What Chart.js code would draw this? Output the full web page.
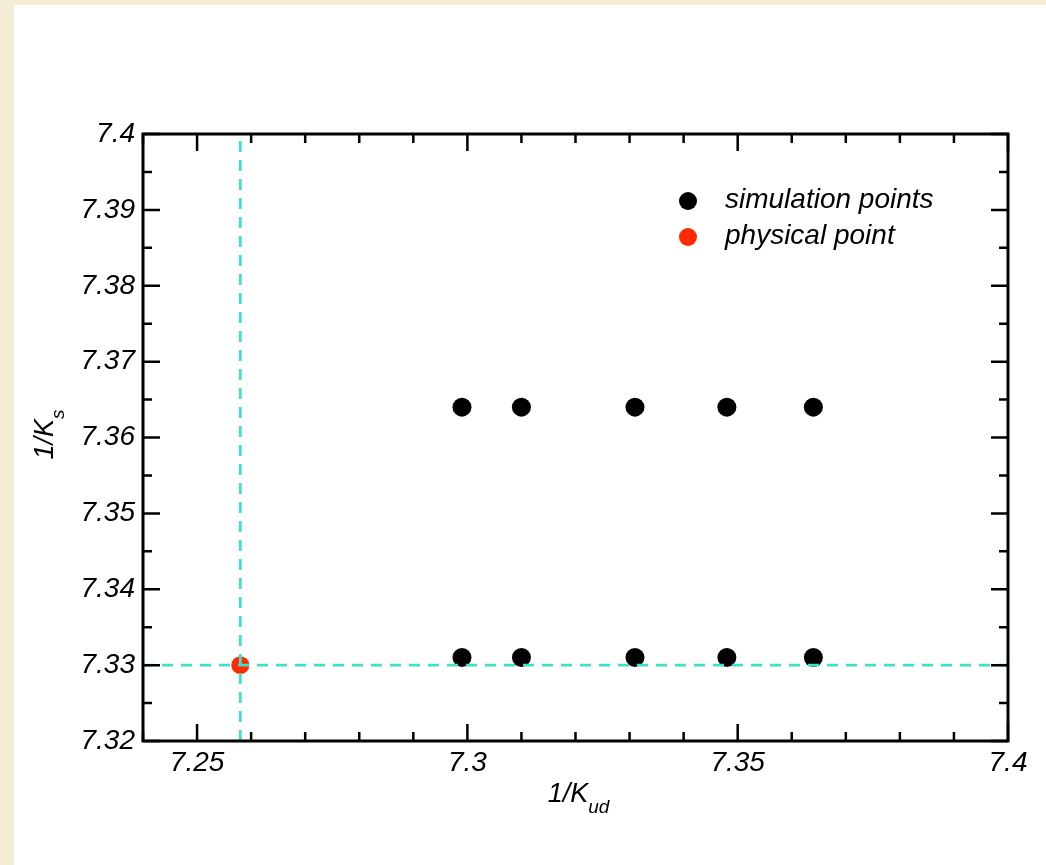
<!DOCTYPE html>
<html>
<head>
<meta charset="utf-8">
<script src="https://cdn.jsdelivr.net/npm/chart.js@4"></script>
<style>
  html, body { margin: 0; padding: 0; }
  body { background: #f4edd6; width: 1046px; height: 865px; overflow: hidden; position: relative; }
  #box { position: absolute; left: 14px; top: 5px; width: 1032px; height: 860px; background: #fff; }
</style>
</head>
<body>
<div id="box"><canvas id="plot" width="1032" height="860"></canvas></div>
<script>
// simulation points (1/K_ud, 1/K_s)
var simX = [7.299, 7.310, 7.331, 7.348, 7.364, 7.299, 7.310, 7.331, 7.348, 7.364];
var simY = [7.364, 7.364, 7.364, 7.364, 7.364, 7.331, 7.331, 7.331, 7.331, 7.331];
// physical point
var physX = [7.258];
var physY = [7.330];

var xRange = [7.24, 7.4];
var yRange = [7.32, 7.4];
var xLabelTicks = [7.25, 7.3, 7.35, 7.4];
var yLabelTicks = [7.32, 7.33, 7.34, 7.35, 7.36, 7.37, 7.38, 7.39, 7.4];

var tickFont = { family: "'Liberation Sans', Arial, sans-serif", size: 28, style: 'italic' };

function pts(xs, ys) {
  return xs.map(function(x, i) { return { x: x, y: ys[i] }; });
}

function sameVal(a, b) { return Math.abs(a - b) < 1e-6; }

// frame, inward ticks, legend, axis titles
var decorations = {
  id: 'decorations',
  afterDraw: function(chart) {
    var ctx = chart.ctx, a = chart.chartArea;
    var xs = chart.scales.x, ys = chart.scales.y;
    ctx.save();
    ctx.strokeStyle = '#000';
    ctx.lineWidth = 3;
    ctx.lineCap = 'butt';
    ctx.strokeRect(a.left, a.top, a.right - a.left, a.bottom - a.top);

    ctx.lineWidth = 2.5;
    ctx.beginPath();
    for (var i = 0; i <= 16; i++) {
      var v = xRange[0] + i * 0.01;
      var px = xs.getPixelForValue(v);
      var len = xLabelTicks.some(function(t) { return sameVal(t, v); }) ? 17 : 9;
      ctx.moveTo(px, a.bottom); ctx.lineTo(px, a.bottom - len);
      ctx.moveTo(px, a.top); ctx.lineTo(px, a.top + len);
    }
    for (var j = 0; j <= 16; j++) {
      var w = yRange[0] + j * 0.005;
      var py = ys.getPixelForValue(w);
      var l2 = yLabelTicks.some(function(t) { return sameVal(t, w); }) ? 17 : 9;
      ctx.moveTo(a.left, py); ctx.lineTo(a.left + l2, py);
      ctx.moveTo(a.right, py); ctx.lineTo(a.right - l2, py);
    }
    ctx.stroke();

    // legend
    var lx = a.right - 320;
    var rows = [
      { label: chart.data.datasets[0].label, color: chart.data.datasets[0].backgroundColor, y: a.top + 67 },
      { label: chart.data.datasets[1].label, color: chart.data.datasets[1].backgroundColor, y: a.top + 103 }
    ];
    ctx.font = "italic 28px 'Liberation Sans', Arial, sans-serif";
    ctx.textBaseline = 'alphabetic';
    ctx.textAlign = 'left';
    rows.forEach(function(r) {
      ctx.fillStyle = r.color;
      ctx.beginPath();
      ctx.arc(lx, r.y, 9, 0, Math.PI * 2);
      ctx.fill();
      ctx.fillStyle = '#000';
      ctx.fillText(r.label, lx + 37, r.y + 7);
    });

    // x title 1/K_ud
    var mainF = "italic 27px 'Liberation Sans', Arial, sans-serif";
    var subF = "italic 19px 'Liberation Sans', Arial, sans-serif";
    ctx.font = mainF;
    var w1 = ctx.measureText('1/K').width;
    ctx.font = subF;
    var w2 = ctx.measureText('ud').width;
    var cx = (a.left + a.right) / 2 + 3;
    var x0 = cx - (w1 + w2) / 2;
    ctx.font = mainF;
    ctx.fillText('1/K', x0, a.bottom + 61);
    ctx.font = subF;
    ctx.fillText('ud', x0 + w1, a.bottom + 72);

    // y title 1/K_s
    ctx.font = mainF;
    var w3 = ctx.measureText('1/K').width;
    ctx.font = subF;
    var w4 = ctx.measureText('s').width;
    ctx.translate(a.left - 90, (a.top + a.bottom) / 2 - 3);
    ctx.rotate(-Math.PI / 2);
    var y0 = -(w3 + w4) / 2;
    ctx.font = mainF;
    ctx.fillText('1/K', y0, 0);
    ctx.font = subF;
    ctx.fillText('s', y0 + w3, 11);
    ctx.restore();
  }
};

var ctx = document.getElementById('plot').getContext('2d');
var chart = new Chart(ctx, {
  type: 'scatter',
  data: {
    datasets: [
      {
        label: 'simulation points',
        data: pts(simX, simY),
        backgroundColor: '#000000',
        borderWidth: 0,
        pointRadius: 9.5,
        order: 2
      },
      {
        label: 'physical point',
        data: pts(physX, physY),
        backgroundColor: '#ff2a00',
        borderWidth: 0,
        pointRadius: 9,
        order: 2
      },
      {
        label: 'vertical guide',
        type: 'line',
        data: [{ x: physX[0], y: yRange[0] }, { x: physX[0], y: yRange[1] }],
        borderColor: '#40e0d0',
        borderWidth: 2.8,
        borderDash: [11, 8],
        pointRadius: 0,
        fill: false,
        order: 1
      },
      {
        label: 'horizontal guide',
        type: 'line',
        data: [{ x: xRange[0], y: physY[0] }, { x: xRange[1], y: physY[0] }],
        borderColor: '#40e0d0',
        borderWidth: 2.8,
        borderDash: [11, 8],
        pointRadius: 0,
        fill: false,
        order: 1
      }
    ]
  },
  options: {
    responsive: false,
    animation: false,
    layout: { padding: { top: 129, right: 38, left: 0, bottom: 0 } },
    plugins: { legend: { display: false }, tooltip: { enabled: false } },
    scales: {
      x: {
        type: 'linear',
        min: xRange[0],
        max: xRange[1],
        grid: { display: false, drawTicks: false },
        border: { display: false },
        ticks: {
          stepSize: 0.01,
          autoSkip: false,
          maxRotation: 0,
          padding: 5,
          color: '#000',
          font: tickFont,
          callback: function(v) {
            var hit = xLabelTicks.filter(function(t) { return sameVal(t, v); });
            return hit.length ? String(hit[0]) : '';
          }
        },
        afterFit: function(s) { s.height = 124; }
      },
      y: {
        type: 'linear',
        min: yRange[0],
        max: yRange[1],
        grid: { display: false, drawTicks: false },
        border: { display: false },
        ticks: {
          stepSize: 0.01,
          autoSkip: false,
          padding: 8,
          color: '#000',
          font: tickFont,
          callback: function(v) {
            var hit = yLabelTicks.filter(function(t) { return sameVal(t, v); });
            return hit.length ? String(hit[0]) : '';
          }
        },
        afterFit: function(s) { s.width = 129; }
      }
    }
  },
  plugins: [decorations]
});
</script>
</body>
</html>
